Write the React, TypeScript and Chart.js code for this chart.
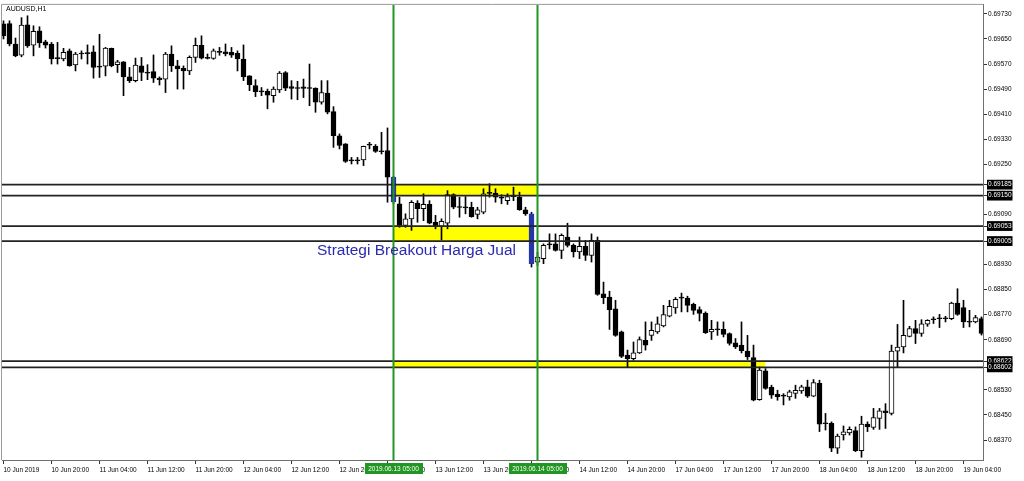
import React, { useEffect, useRef } from "react";
import { Chart, registerables } from "chart.js";

Chart.register(...registerables);

// ---- Data (AUDUSD H1, one candle per hour, index 0 = 10 Jun 2019 12:00) ----
const opens = [
  0.69698,0.69699,0.69634,0.69598,0.69695,0.69630,0.69676,0.69641,0.69634,0.69589,
  0.69586,0.69612,0.69567,0.69602,0.69604,0.69609,0.69560,0.69563,0.69620,0.69568,
  0.69577,0.69529,0.69517,0.69564,0.69543,0.69546,0.69525,0.69522,0.69602,0.69564,
  0.69556,0.69548,0.69591,0.69630,0.69589,0.69588,0.69607,0.69609,0.69607,0.69604,
  0.69586,0.69532,0.69501,0.69482,0.69483,0.69469,0.69487,0.69543,0.69498,0.69493,
  0.69497,0.69493,0.69493,0.69448,0.69477,0.69418,0.69341,0.69315,0.69261,0.69262,
  0.69264,0.69311,0.69307,0.69291,0.69294,0.69209,0.69124,0.69055,0.69076,0.69126,
  0.69108,0.69122,0.69065,0.69052,0.69062,0.69153,0.69113,0.69112,0.69113,0.69090,
  0.69097,0.69157,0.69158,0.69143,0.69134,0.69147,0.69145,0.69105,0.69092,0.68938,
  0.68949,0.68993,0.68996,0.68975,0.69018,0.68991,0.68970,0.68988,0.68959,0.69007,
  0.68837,0.68826,0.68789,0.68715,0.68641,0.68630,0.68648,0.68688,0.68704,0.68715,
  0.68734,0.68765,0.68792,0.68823,0.68823,0.68803,0.68786,0.68775,0.68715,0.68723,
  0.68723,0.68710,0.68680,0.68673,0.68654,0.68633,0.68499,0.68591,0.68538,0.68516,
  0.68511,0.68508,0.68519,0.68527,0.68540,0.68510,0.68551,0.68423,0.68423,0.68344,
  0.68386,0.68393,0.68400,0.68336,0.68421,0.68410,0.68439,0.68463,0.68455,0.68654,
  0.68667,0.68701,0.68726,0.68710,0.68740,0.68754,0.68757,0.68758,0.68757,0.68807,
  0.68793,0.68747,0.68747,0.68758,
];
const highs = [
  0.69708,0.69708,0.69653,0.69718,0.69724,0.69692,0.69689,0.69646,0.69639,0.69639,
  0.69620,0.69618,0.69607,0.69612,0.69631,0.69628,0.69665,0.69623,0.69621,0.69582,
  0.69578,0.69559,0.69589,0.69591,0.69568,0.69599,0.69529,0.69607,0.69628,0.69582,
  0.69564,0.69596,0.69653,0.69660,0.69602,0.69618,0.69623,0.69634,0.69623,0.69612,
  0.69631,0.69533,0.69520,0.69495,0.69490,0.69497,0.69546,0.69546,0.69517,0.69515,
  0.69522,0.69570,0.69494,0.69517,0.69517,0.69434,0.69347,0.69316,0.69272,0.69272,
  0.69308,0.69320,0.69313,0.69352,0.69366,0.69212,0.69145,0.69092,0.69134,0.69134,
  0.69156,0.69134,0.69087,0.69076,0.69166,0.69156,0.69145,0.69147,0.69129,0.69113,
  0.69172,0.69188,0.69172,0.69153,0.69156,0.69177,0.69161,0.69113,0.69097,0.68969,
  0.68996,0.69028,0.69028,0.69028,0.69062,0.68996,0.69018,0.69007,0.69028,0.69018,
  0.68874,0.68845,0.68816,0.68718,0.68657,0.68683,0.68699,0.68747,0.68747,0.68763,
  0.68800,0.68816,0.68825,0.68839,0.68829,0.68807,0.68795,0.68779,0.68752,0.68747,
  0.68747,0.68712,0.68694,0.68747,0.68704,0.68673,0.68603,0.68598,0.68545,0.68529,
  0.68518,0.68529,0.68545,0.68545,0.68561,0.68563,0.68561,0.68455,0.68428,0.68389,
  0.68415,0.68412,0.68412,0.68446,0.68428,0.68471,0.68471,0.68486,0.68673,0.68739,
  0.68816,0.68733,0.68752,0.68754,0.68754,0.68763,0.68771,0.68765,0.68810,0.68853,
  0.68816,0.68784,0.68768,0.68763,
];
const lows = [
  0.69650,0.69628,0.69593,0.69593,0.69623,0.69596,0.69623,0.69621,0.69570,0.69570,
  0.69580,0.69563,0.69548,0.69586,0.69570,0.69525,0.69527,0.69532,0.69561,0.69543,
  0.69469,0.69511,0.69513,0.69517,0.69520,0.69511,0.69503,0.69479,0.69546,0.69490,
  0.69490,0.69536,0.69575,0.69586,0.69586,0.69585,0.69598,0.69596,0.69591,0.69548,
  0.69517,0.69485,0.69466,0.69469,0.69427,0.69448,0.69479,0.69485,0.69458,0.69456,
  0.69463,0.69437,0.69416,0.69442,0.69411,0.69304,0.69299,0.69256,0.69251,0.69251,
  0.69246,0.69299,0.69288,0.69283,0.69129,0.69124,0.69049,0.69049,0.69039,0.69065,
  0.69070,0.69060,0.69044,0.69009,0.69044,0.69108,0.69081,0.69092,0.69081,0.69076,
  0.69092,0.69145,0.69129,0.69124,0.69122,0.69134,0.69103,0.69087,0.68922,0.68927,
  0.68933,0.68980,0.68973,0.68949,0.68986,0.68954,0.68949,0.68943,0.68938,0.68832,
  0.68805,0.68723,0.68701,0.68633,0.68603,0.68625,0.68646,0.68657,0.68688,0.68710,
  0.68731,0.68763,0.68774,0.68779,0.68779,0.68771,0.68750,0.68710,0.68691,0.68704,
  0.68699,0.68673,0.68662,0.68648,0.68627,0.68495,0.68497,0.68532,0.68503,0.68497,
  0.68482,0.68497,0.68503,0.68519,0.68506,0.68508,0.68397,0.68402,0.68333,0.68327,
  0.68370,0.68386,0.68333,0.68315,0.68397,0.68404,0.68404,0.68407,0.68450,0.68603,
  0.68648,0.68699,0.68678,0.68701,0.68733,0.68742,0.68729,0.68747,0.68754,0.68768,
  0.68729,0.68731,0.68744,0.68705,
];
const closes = [
  0.69660,0.69634,0.69596,0.69694,0.69628,0.69674,0.69637,0.69630,0.69586,0.69587,
  0.69607,0.69564,0.69602,0.69604,0.69603,0.69559,0.69561,0.69621,0.69564,0.69577,
  0.69529,0.69517,0.69567,0.69543,0.69541,0.69525,0.69520,0.69602,0.69564,0.69554,
  0.69548,0.69591,0.69630,0.69589,0.69588,0.69612,0.69608,0.69602,0.69598,0.69586,
  0.69529,0.69504,0.69482,0.69481,0.69471,0.69490,0.69541,0.69493,0.69492,0.69492,
  0.69492,0.69492,0.69448,0.69479,0.69416,0.69341,0.69310,0.69259,0.69262,0.69261,
  0.69307,0.69312,0.69291,0.69290,0.69209,0.69130,0.69055,0.69076,0.69129,0.69108,
  0.69122,0.69062,0.69052,0.69068,0.69153,0.69113,0.69112,0.69111,0.69083,0.69105,
  0.69156,0.69158,0.69145,0.69142,0.69147,0.69148,0.69105,0.69092,0.68933,0.68954,
  0.68991,0.68994,0.68975,0.69023,0.68991,0.68970,0.68988,0.68959,0.69007,0.68835,
  0.68824,0.68786,0.68704,0.68637,0.68630,0.68648,0.68691,0.68673,0.68720,0.68741,
  0.68770,0.68797,0.68819,0.68824,0.68800,0.68784,0.68774,0.68713,0.68723,0.68722,
  0.68707,0.68678,0.68667,0.68655,0.68635,0.68497,0.68593,0.68535,0.68513,0.68508,
  0.68510,0.68524,0.68529,0.68540,0.68510,0.68553,0.68421,0.68422,0.68344,0.68383,
  0.68396,0.68404,0.68336,0.68421,0.68412,0.68442,0.68463,0.68457,0.68654,0.68667,
  0.68704,0.68726,0.68710,0.68741,0.68752,0.68755,0.68758,0.68757,0.68807,0.68771,
  0.68747,0.68746,0.68761,0.68710,
];

const xTickIndex = [0, 8, 16, 24, 32, 40, 48, 56, 64, 72, 80, 88, 96, 104, 112, 120, 128, 136, 144, 152, 160];
const xTickLabels = [
  "10 Jun 2019", "10 Jun 20:00", "11 Jun 04:00", "11 Jun 12:00", "11 Jun 20:00",
  "12 Jun 04:00", "12 Jun 12:00", "12 Jun 20:00", "13 Jun 04:00", "13 Jun 12:00",
  "13 Jun 20:00", "14 Jun 04:00", "14 Jun 12:00", "14 Jun 20:00", "17 Jun 04:00",
  "17 Jun 12:00", "17 Jun 20:00", "18 Jun 04:00", "18 Jun 12:00", "18 Jun 20:00",
  "19 Jun 04:00",
];
const yTickValues = [
  0.6973, 0.6965, 0.6957, 0.6949, 0.6941, 0.6933, 0.6925, 0.69185, 0.6915, 0.6909,
  0.69053, 0.69005, 0.6893, 0.6885, 0.6877, 0.6869, 0.68622, 0.68602, 0.6853, 0.6845, 0.6837,
];
const levelValues = [0.69185, 0.6915, 0.69053, 0.69005, 0.68622, 0.68602];

const zoneStart = [65, 65, 65];
const zoneEnd = [89, 88, 127];
const zoneTop = [0.69185, 0.69053, 0.68622];
const zoneBottom = [0.6915, 0.69005, 0.68602];

const vlineIndex = [65, 89];
const vlineLabels = ["2019.06.13 05:00", "2019.06.14 05:00"];
const breakoutIndex = [65, 88];

const symbolTitle = "AUDUSD,H1";
const noteText = "Strategi Breakout Harga Jual";
const noteIndex = 52.25;
const notePrice = 0.68962;

const X_MIN = -0.25;
const X_MAX = 163.25;
const Y_MIN = 0.683063;
const Y_MAX = 0.697587;

const FONT = '"Liberation Sans", Arial, sans-serif';
const GREEN = "rgb(34,150,34)";
const BLUE = "#2436a8";
const YELLOW = "#ffff00";

const isLevel = (v: number) => levelValues.some((l) => Math.abs(l - v) < 1e-7);

const decorPlugin = {
  id: "decor",
  beforeDraw(chart: any) {
    const { ctx, width, height } = chart;
    ctx.save();
    ctx.fillStyle = "#ffffff";
    ctx.fillRect(0, 0, width, height);
    ctx.restore();
  },
  afterDatasetsDraw(chart: any) {
    const { ctx, chartArea, scales } = chart;
    ctx.save();
    ctx.font = `15.5px ${FONT}`;
    ctx.fillStyle = "#2b2bb0";
    ctx.textBaseline = "alphabetic";
    ctx.textAlign = "left";
    ctx.fillText(noteText, scales.x.getPixelForValue(noteIndex), scales.y.getPixelForValue(notePrice));
    ctx.font = `7px ${FONT}`;
    ctx.fillStyle = "#000";
    ctx.textBaseline = "top";
    ctx.fillText(symbolTitle, chartArea.left + 4, chartArea.top + 1);
    ctx.restore();
  },
  afterDraw(chart: any) {
    const { ctx, chartArea, scales } = chart;
    ctx.save();
    ctx.strokeStyle = "#9a9a9a";
    ctx.lineWidth = 1;
    ctx.beginPath();
    ctx.moveTo(chartArea.left - 0.5, chartArea.bottom);
    ctx.lineTo(chartArea.left - 0.5, chartArea.top - 0.5);
    ctx.lineTo(chartArea.right, chartArea.top - 0.5);
    ctx.stroke();
    ctx.font = `6.5px ${FONT}`;
    ctx.textAlign = "center";
    ctx.textBaseline = "middle";
    vlineIndex.forEach((v, i) => {
      const px = scales.x.getPixelForValue(v);
      const w = ctx.measureText(vlineLabels[i]).width + 7;
      const top = chartArea.bottom + 3;
      ctx.fillStyle = GREEN;
      ctx.fillRect(Math.round(px - w / 2), top, Math.round(w), 11);
      ctx.fillStyle = "#ffffff";
      ctx.fillText(vlineLabels[i], px, top + 6);
    });
    ctx.restore();
  },
};

export default function App() {
  const ref = useRef<HTMLCanvasElement | null>(null);

  useEffect(() => {
    document.body.style.margin = "0";
    const idx = opens.map((_, i) => i);
    const wickData = idx.map((i) => ({ x: i, y: [lows[i], highs[i]] }));
    const bodyData = idx.map((i) => ({ x: i, y: [opens[i], closes[i]] }));
    const bodyFill = idx.map((i) =>
      breakoutIndex.includes(i)
        ? BLUE
        : Math.abs(closes[i] - opens[i]) < 0.000025
        ? "#000000"
        : closes[i] > opens[i]
        ? "#ffffff"
        : "#000000"
    );
    const bodyBorder = idx.map((i) => (breakoutIndex.includes(i) ? BLUE : "#000000"));

    const datasets: any[] = [];
    zoneStart.forEach((s, i) => {
      datasets.push({
        type: "line",
        data: [
          { x: s, y: zoneTop[i] },
          { x: zoneEnd[i], y: zoneTop[i] },
        ],
        borderWidth: 0,
        pointRadius: 0,
        fill: "+1",
        backgroundColor: YELLOW,
        order: 10,
      });
      datasets.push({
        type: "line",
        data: [
          { x: s, y: zoneBottom[i] },
          { x: zoneEnd[i], y: zoneBottom[i] },
        ],
        borderWidth: 0,
        pointRadius: 0,
        fill: false,
        order: 10,
      });
    });
    datasets.push({
      type: "bar",
      data: wickData,
      backgroundColor: "#000000",
      barThickness: 1,
      grouped: false,
      order: 6,
    });
    datasets.push({
      type: "bar",
      data: bodyData,
      backgroundColor: bodyFill,
      borderColor: bodyBorder,
      borderWidth: 1,
      borderSkipped: false,
      barThickness: 5,
      minBarLength: 1,
      grouped: false,
      order: 5,
    });
    levelValues.forEach((v) => {
      datasets.push({
        type: "line",
        data: [
          { x: X_MIN, y: v },
          { x: X_MAX, y: v },
        ],
        borderColor: "#222222",
        borderWidth: 1.8,
        pointRadius: 0,
        fill: false,
        order: 3,
      });
    });
    vlineIndex.forEach((v) => {
      datasets.push({
        type: "line",
        data: [
          { x: v, y: Y_MIN },
          { x: v, y: Y_MAX },
        ],
        borderColor: GREEN,
        borderWidth: 2,
        pointRadius: 0,
        fill: false,
        order: 2,
      });
    });

    const chart = new Chart(ref.current as HTMLCanvasElement, {
      type: "bar",
      data: { datasets },
      options: {
        responsive: false,
        animation: false,
        events: [],
        layout: { padding: { left: 2, top: 4, right: 0, bottom: 0 } },
        plugins: { legend: { display: false }, tooltip: { enabled: false } },
        scales: {
          x: {
            type: "linear",
            min: X_MIN,
            max: X_MAX,
            offset: false,
            afterBuildTicks: (scale: any) => {
              scale.ticks = xTickIndex.map((v) => ({ value: v }));
            },
            afterFit: (scale: any) => {
              scale.height = 21;
            },
            ticks: {
              autoSkip: false,
              maxRotation: 0,
              minRotation: 0,
              align: "start",
              padding: 2,
              color: "#000",
              font: { family: FONT, size: 6.5 },
              callback: (_v: any, i: number) => xTickLabels[i],
            },
            grid: { drawOnChartArea: false, offset: false, tickLength: 4, color: "#333" },
            border: { display: true, color: "#6f6f6f", width: 1 },
          },
          y: {
            type: "linear",
            position: "right",
            min: Y_MIN,
            max: Y_MAX,
            beginAtZero: false,
            afterBuildTicks: (scale: any) => {
              scale.ticks = yTickValues.map((v) => ({ value: v }));
            },
            afterFit: (scale: any) => {
              scale.width = 41;
            },
            ticks: {
              autoSkip: false,
              padding: 1,
              font: { family: FONT, size: 6.5 },
              color: (ctx: any) => (isLevel(ctx.tick.value) ? "#ffffff" : "#000000"),
              showLabelBackdrop: (ctx: any) => isLevel(ctx.tick.value),
              backdropColor: "#000000",
              backdropPadding: { x: 1, y: 1 },
              callback: (v: any) => Number(v).toFixed(5),
            },
            grid: { drawOnChartArea: false, tickLength: 4, color: "#333" },
            border: { display: true, color: "#6f6f6f", width: 1 },
          },
        },
      } as any,
      plugins: [decorPlugin],
    });
    return () => chart.destroy();
  }, []);

  return (
    <div style={{ width: 1024, height: 481 }}>
      <canvas ref={ref} width={1024} height={481} style={{ display: "block" }} />
    </div>
  );
}
